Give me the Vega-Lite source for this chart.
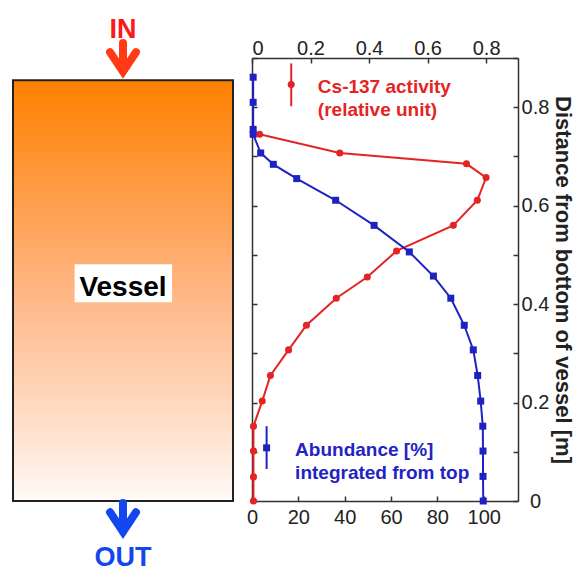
{
  "$schema": "https://vega.github.io/schema/vega-lite/v6.json",
  "padding": {"left": 12, "top": 15, "right": 8, "bottom": 5},
  "bounds": "flush",
  "spacing": 19,
  "config": {
    "view": {"stroke": null},
    "font": "Liberation Sans",
    "axis": {
      "grid": false,
      "domainColor": "#333333",
      "domainWidth": 1.5,
      "tickColor": "#333333",
      "tickWidth": 1.5,
      "tickSize": -5,
      "labelFontSize": 20,
      "labelColor": "#222222",
      "labelFont": "Liberation Sans",
      "labelOverlap": false,
      "titleFont": "Liberation Sans"
    }
  },
  "hconcat": [
    {
      "width": 220,
      "height": 443,
      "layer": [
        {
          "data": {"values": [{"x": 0, "x2": 1, "y": 0, "y2": 0.855}]},
          "mark": {
            "type": "rect",
            "fill": {
              "gradient": "linear", "x1": 0, "y1": 0, "x2": 0, "y2": 1,
              "stops": [
                {"offset": 0, "color": "#FF8000"},
                {"offset": 0.5, "color": "#FFB583"},
                {"offset": 0.85, "color": "#FFE3D0"},
                {"offset": 1, "color": "#FFFAF7"}
              ]
            },
            "stroke": "#222222",
            "strokeWidth": 2
          },
          "encoding": {
            "x": {"field": "x", "type": "quantitative", "scale": {"domain": [0, 1]}, "axis": null},
            "x2": {"field": "x2"},
            "y": {"field": "y", "type": "quantitative", "scale": {"domain": [0, 0.9]}, "axis": null},
            "y2": {"field": "y2"}
          }
        },
        {
          "data": {"values": [{"x": 0.28, "x2": 0.723, "y": 0.404, "y2": 0.481}]},
          "mark": {"type": "rect", "fill": "#FFFFFF"},
          "encoding": {
            "x": {"field": "x", "type": "quantitative"},
            "x2": {"field": "x2"},
            "y": {"field": "y", "type": "quantitative"},
            "y2": {"field": "y2"}
          }
        },
        {
          "data": {"values": [
            {"x": 0.5, "y": 0.416, "label": "Vessel"}
          ]},
          "mark": {"type": "text", "fontSize": 28, "fontWeight": "bold", "color": "#000000", "align": "center", "baseline": "alphabetic"},
          "encoding": {
            "x": {"field": "x", "type": "quantitative"},
            "y": {"field": "y", "type": "quantitative"},
            "text": {"field": "label"}
          }
        },
        {
          "data": {"values": [{"x": 0.5, "y": 0.9413, "label": "IN"}]},
          "mark": {"type": "text", "fontSize": 27, "fontWeight": "bold", "color": "#FF1A1A", "align": "center", "baseline": "alphabetic"},
          "encoding": {
            "x": {"field": "x", "type": "quantitative"},
            "y": {"field": "y", "type": "quantitative"},
            "text": {"field": "label"}
          }
        },
        {
          "data": {"values": [{"x": 0.5, "y": -0.1327, "label": "OUT"}]},
          "mark": {"type": "text", "fontSize": 27, "fontWeight": "bold", "color": "#1446F0", "align": "center", "baseline": "alphabetic"},
          "encoding": {
            "x": {"field": "x", "type": "quantitative"},
            "y": {"field": "y", "type": "quantitative"},
            "text": {"field": "label"}
          }
        },
        {
          "data": {"values": [{"x": 0.5, "y": 0.893}]},
          "mark": {"type": "point", "shape": "M0,-1L0,0.55M-0.7,-0.5L0,0.55L0.7,-0.5", "filled": false, "size": 1369, "stroke": "#FF3A14", "strokeWidth": 8, "strokeCap": "round", "strokeJoin": "miter", "opacity": 1},
          "encoding": {
            "x": {"field": "x", "type": "quantitative"},
            "y": {"field": "y", "type": "quantitative"}
          }
        },
        {
          "data": {"values": [{"x": 0.5, "y": -0.0417}]},
          "mark": {"type": "point", "shape": "M0,-1L0,0.55M-0.7,-0.5L0,0.55L0.7,-0.5", "filled": false, "size": 1369, "stroke": "#1446F0", "strokeWidth": 8, "strokeCap": "round", "strokeJoin": "miter", "opacity": 1},
          "encoding": {
            "x": {"field": "x", "type": "quantitative"},
            "y": {"field": "y", "type": "quantitative"}
          }
        }
      ]
    },
    {
      "width": 266,
      "height": 443,
      "resolve": {"scale": {"x": "independent"}, "axis": {"y": "independent"}},
      "layer": [
        {
          "data": {"values": [
            {"act": 0.005, "dist": 0},
            {"act": 0.005, "dist": 0.049},
            {"act": 0.005, "dist": 0.1015},
            {"act": 0.005, "dist": 0.152},
            {"act": 0.035, "dist": 0.203},
            {"act": 0.063, "dist": 0.255},
            {"act": 0.125, "dist": 0.307},
            {"act": 0.186, "dist": 0.357},
            {"act": 0.288, "dist": 0.412},
            {"act": 0.394, "dist": 0.455},
            {"act": 0.494, "dist": 0.508},
            {"act": 0.688, "dist": 0.56},
            {"act": 0.77, "dist": 0.611},
            {"act": 0.8, "dist": 0.657},
            {"act": 0.733, "dist": 0.685},
            {"act": 0.3, "dist": 0.707},
            {"act": 0.026, "dist": 0.745}
          ]},
          "layer": [
            {
              "mark": {"type": "line", "color": "#E42424", "strokeWidth": 2},
              "encoding": {
                "x": {
                  "field": "act", "type": "quantitative",
                  "scale": {"domain": [0, 0.909], "nice": false},
                  "axis": {
                    "orient": "top", "title": null,
                    "values": [0, 0.1, 0.2, 0.3, 0.4, 0.5, 0.6, 0.7, 0.8, 0.9],
                    "format": ".1~f",
                    "labelExpr": "round(datum.value*10)%2==0 && datum.value < 0.85 ? datum.label : ''",
                    "labelPadding": 5
                  }
                },
                "y": {
                  "field": "dist", "type": "quantitative",
                  "scale": {"domain": [0, 0.9], "nice": false},
                  "axis": {
                    "orient": "right",
                    "title": "Distance from bottom of vessel [m]",
                    "titleFontSize": 22, "titleFontWeight": "bold", "titleColor": "#222222",
                    "titlePadding": 2,
                    "values": [0, 0.1, 0.2, 0.3, 0.4, 0.5, 0.6, 0.7, 0.8, 0.9],
                    "format": ".1~f",
                    "labelExpr": "round(datum.value*10)%2==0 && datum.value < 0.85 ? datum.label : ''",
                    "labelAlign": "center",
                    "labelBaseline": "middle",
                    "labelPadding": 22
                  }
                },
                "order": {"field": "dist"}
              }
            },
            {
              "mark": {"type": "point", "shape": "circle", "filled": true, "color": "#E42424", "size": 50, "opacity": 1},
              "encoding": {
                "x": {"field": "act", "type": "quantitative"},
                "y": {"field": "dist", "type": "quantitative"}
              }
            },
            {
              "data": {"values": [{"act": 0.134, "dist": 0.802, "dist2": 0.889}]},
              "mark": {"type": "rule", "color": "#E42424", "strokeWidth": 2},
              "encoding": {
                "x": {"field": "act", "type": "quantitative"},
                "y": {"field": "dist", "type": "quantitative"},
                "y2": {"field": "dist2"}
              }
            },
            {
              "data": {"values": [{"act": 0.134, "dist": 0.846}]},
              "mark": {"type": "point", "shape": "circle", "filled": true, "color": "#E42424", "size": 50, "opacity": 1},
              "encoding": {
                "x": {"field": "act", "type": "quantitative"},
                "y": {"field": "dist", "type": "quantitative"}
              }
            },
            {
              "data": {"values": [
                {"act": 0.225, "dist": 0.8283, "label": "Cs-137 activity"},
                {"act": 0.225, "dist": 0.782, "label": "(relative unit)"}
              ]},
              "mark": {"type": "text", "fontSize": 19, "fontWeight": "bold", "color": "#E42424", "align": "left", "baseline": "alphabetic"},
              "encoding": {
                "x": {"field": "act", "type": "quantitative"},
                "y": {"field": "dist", "type": "quantitative"},
                "text": {"field": "label"}
              }
            }
          ]
        },
        {
          "data": {"values": [
            {"abund": 99.8, "dist": 0},
            {"abund": 99.7, "dist": 0.05},
            {"abund": 99.7, "dist": 0.1015},
            {"abund": 99.6, "dist": 0.152},
            {"abund": 98.7, "dist": 0.203},
            {"abund": 97.4, "dist": 0.255},
            {"abund": 95.5, "dist": 0.307},
            {"abund": 91.6, "dist": 0.357},
            {"abund": 85.8, "dist": 0.412},
            {"abund": 78.3, "dist": 0.457},
            {"abund": 67.9, "dist": 0.506},
            {"abund": 52.7, "dist": 0.56},
            {"abund": 36.1, "dist": 0.611},
            {"abund": 19.3, "dist": 0.655},
            {"abund": 9.2, "dist": 0.684},
            {"abund": 3.75, "dist": 0.707},
            {"abund": 0.5, "dist": 0.745},
            {"abund": 0.5, "dist": 0.755},
            {"abund": 0.5, "dist": 0.81},
            {"abund": 0.5, "dist": 0.861}
          ]},
          "layer": [
            {
              "mark": {"type": "line", "color": "#1E22C0", "strokeWidth": 2},
              "encoding": {
                "x": {
                  "field": "abund", "type": "quantitative",
                  "scale": {"domain": [0, 114.8], "nice": false},
                  "axis": {
                    "orient": "bottom", "title": null,
                    "values": [0, 10, 20, 30, 40, 50, 60, 70, 80, 90, 100, 110],
                    "labelExpr": "datum.value%20==0 ? datum.label : ''",
                    "labelFlush": false,
                    "labelPadding": 11.5
                  }
                },
                "y": {
                  "field": "dist", "type": "quantitative",
                  "axis": {
                    "orient": "left", "title": null, "labels": false,
                    "values": [0, 0.1, 0.2, 0.3, 0.4, 0.5, 0.6, 0.7, 0.8, 0.9]
                  }
                },
                "order": {"field": "dist"}
              }
            },
            {
              "mark": {"type": "point", "shape": "square", "filled": true, "color": "#1E22C0", "size": 49, "opacity": 1},
              "encoding": {
                "x": {"field": "abund", "type": "quantitative"},
                "y": {"field": "dist", "type": "quantitative"}
              }
            },
            {
              "data": {"values": [{"abund": 6.3, "dist": 0.065, "dist2": 0.152}]},
              "mark": {"type": "rule", "color": "#1E22C0", "strokeWidth": 2},
              "encoding": {
                "x": {"field": "abund", "type": "quantitative"},
                "y": {"field": "dist", "type": "quantitative"},
                "y2": {"field": "dist2"}
              }
            },
            {
              "data": {"values": [{"abund": 6.3, "dist": 0.108}]},
              "mark": {"type": "point", "shape": "square", "filled": true, "color": "#1E22C0", "size": 49, "opacity": 1},
              "encoding": {
                "x": {"field": "abund", "type": "quantitative"},
                "y": {"field": "dist", "type": "quantitative"}
              }
            },
            {
              "data": {"values": [
                {"abund": 18.6, "dist": 0.0914, "label": "Abundance [%]"},
                {"abund": 18.6, "dist": 0.0447, "label": "integrated from top"}
              ]},
              "mark": {"type": "text", "fontSize": 19, "fontWeight": "bold", "color": "#2323C4", "align": "left", "baseline": "alphabetic"},
              "encoding": {
                "x": {"field": "abund", "type": "quantitative"},
                "y": {"field": "dist", "type": "quantitative"},
                "text": {"field": "label"}
              }
            }
          ]
        }
      ]
    }
  ]
}
